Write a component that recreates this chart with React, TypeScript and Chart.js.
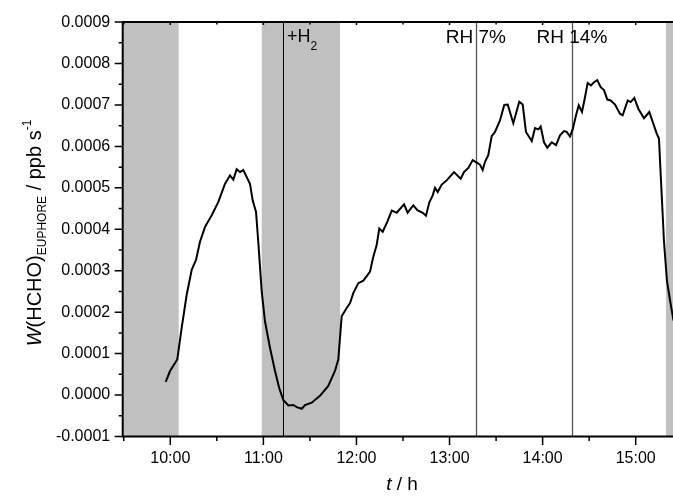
import { useEffect, useRef } from 'react';
import { Chart, registerables } from 'chart.js';

Chart.register(...registerables);

// time of day in hours
const timeH = [
  9.951, 9.997, 10.075, 10.122, 10.176, 10.23, 10.276, 10.319, 10.373, 10.445,
  10.516, 10.588, 10.641, 10.677, 10.713, 10.749, 10.784, 10.821, 10.856, 10.885,
  10.921, 10.945, 10.982, 11.017, 11.071, 11.125, 11.171, 11.214, 11.268, 11.321,
  11.358, 11.412, 11.447, 11.519, 11.608, 11.697, 11.769, 11.805, 11.841, 11.895,
  11.931, 11.966, 12.02, 12.074, 12.146, 12.181, 12.217, 12.245, 12.282, 12.331,
  12.379, 12.432, 12.511, 12.55, 12.611, 12.654, 12.712, 12.747, 12.783, 12.819,
  12.844, 12.873, 12.916, 12.969, 13.048, 13.12, 13.155, 13.202, 13.249, 13.292,
  13.327, 13.356, 13.381, 13.416, 13.453, 13.488, 13.542, 13.588, 13.625, 13.685,
  13.749, 13.786, 13.821, 13.883, 13.918, 13.954, 13.979, 14.015, 14.05, 14.098,
  14.144, 14.187, 14.23, 14.259, 14.294, 14.323, 14.359, 14.388, 14.423, 14.452,
  14.484, 14.52, 14.552, 14.587, 14.624, 14.659, 14.695, 14.731, 14.778, 14.831,
  14.86, 14.914, 14.946, 14.985, 15.028, 15.089, 15.146, 15.189, 15.226, 15.25,
  15.269, 15.29, 15.304, 15.336, 15.368, 15.406,
];

// W(HCHO)_EUPHORE in ppb s^-1
const wHCHO = [
  0.000032, 0.000058, 0.000086, 0.000162, 0.000242, 0.000302, 0.000326, 0.00037, 0.000406, 0.000434,
  0.000466, 0.00051, 0.00053, 0.00052, 0.000545, 0.000538, 0.000543, 0.000526, 0.00051, 0.00047,
  0.000442, 0.00037, 0.00025, 0.000178, 0.000114, 0.000058, 0.000016, -0.000012, -0.000025, -0.000024,
  -0.000029, -0.000033, -0.000024, -0.0000185, -0.000002, 0.000022, 0.000058, 0.000086, 0.00019, 0.00021,
  0.000222, 0.000246, 0.00027, 0.000276, 0.000298, 0.000334, 0.000362, 0.000402, 0.000394, 0.000418,
  0.000445, 0.00044, 0.00046, 0.00044, 0.000458, 0.000446, 0.00044, 0.000433, 0.000465, 0.000482,
  0.0005, 0.00049, 0.000508, 0.000518, 0.000538, 0.000522, 0.000538, 0.000548, 0.000567, 0.000561,
  0.000556, 0.000543, 0.000563, 0.000579, 0.000625, 0.000635, 0.000663, 0.0007, 0.000701, 0.000656,
  0.000708, 0.000701, 0.000635, 0.000613, 0.000644, 0.000641, 0.000648, 0.00061, 0.000597, 0.00061,
  0.000603, 0.000627, 0.000637, 0.000635, 0.000624, 0.000641, 0.000675, 0.000699, 0.000683, 0.000715,
  0.000753, 0.000747, 0.000755, 0.00076, 0.000743, 0.000736, 0.000713, 0.000711, 0.000701, 0.000679,
  0.000675, 0.000711, 0.000707, 0.000717, 0.000691, 0.000668, 0.000683, 0.000655, 0.000631, 0.000619,
  0.00053, 0.000434, 0.00037, 0.000275, 0.00023, 0.00018,
];

const xMin = 9.4886;
const xMax = 15.4007;
const xTicks = [10, 11, 12, 13, 14, 15];
const xTickLabels = ['10:00', '11:00', '12:00', '13:00', '14:00', '15:00'];
const xMinorTicks = [9.5, 10.5, 11.5, 12.5, 13.5, 14.5];

const yMin = -0.0001;
const yMax = 0.0009;
const yTicks = [-0.0001, 0, 0.0001, 0.0002, 0.0003, 0.0004, 0.0005, 0.0006, 0.0007, 0.0008, 0.0009];
const yTickLabels = ['-0.0001', '0.0000', '0.0001', '0.0002', '0.0003', '0.0004', '0.0005', '0.0006', '0.0007', '0.0008', '0.0009'];
const yMinorTicks = [-0.00005, 0.00005, 0.00015, 0.00025, 0.00035, 0.00045, 0.00055, 0.00065, 0.00075, 0.00085];

// dark (shaded) periods [start, end] in hours
const shadeStart = [9.4886, 10.982, 15.325];
const shadeEnd = [10.09, 11.823, 15.4007];

// events
const eventTimes = [11.215, 13.283, 14.315];
const eventLabels = ['+H', 'RH 7%', 'RH 14%'];
const eventColors = ['#000000', '#555555', '#555555'];

const FONT = "'Liberation Sans', Arial, Helvetica, sans-serif";

const decorPlugin = {
  id: 'decor',
  beforeDatasetsDraw(chart: any) {
    const { ctx, chartArea } = chart;
    const xs = chart.scales.x;
    ctx.save();
    ctx.fillStyle = '#c0c0c0';
    for (let i = 0; i < shadeStart.length; i++) {
      const a = xs.getPixelForValue(shadeStart[i]);
      const b = xs.getPixelForValue(shadeEnd[i]);
      ctx.fillRect(a, chartArea.top, b - a, chartArea.bottom - chartArea.top);
    }
    for (let i = 0; i < eventTimes.length; i++) {
      const px = Math.round(xs.getPixelForValue(eventTimes[i])) + 0.5;
      ctx.strokeStyle = eventColors[i];
      ctx.lineWidth = i === 0 ? 1 : 1.3;
      ctx.beginPath();
      ctx.moveTo(px, chartArea.top);
      ctx.lineTo(px, chartArea.bottom);
      ctx.stroke();
    }
    // labels
    ctx.fillStyle = '#000';
    ctx.textBaseline = 'alphabetic';
    const h2x = xs.getPixelForValue(eventTimes[0]) + 3.5;
    ctx.font = `18px ${FONT}`;
    ctx.textAlign = 'left';
    ctx.fillText(eventLabels[0], h2x, 42);
    const w = ctx.measureText(eventLabels[0]).width;
    ctx.font = `12px ${FONT}`;
    ctx.fillText('2', h2x + w, 50);
    ctx.font = `19px ${FONT}`;
    ctx.textAlign = 'center';
    for (let i = 1; i < eventTimes.length; i++) {
      ctx.fillText(eventLabels[i], xs.getPixelForValue(eventTimes[i]), 42.5);
    }
    ctx.restore();
  },
  afterDraw(chart: any) {
    const { ctx, chartArea } = chart;
    const xs = chart.scales.x;
    const ys = chart.scales.y;
    const L = chartArea.left;
    const R = chartArea.right;
    const T = chartArea.top;
    const B = chartArea.bottom;
    ctx.save();
    ctx.strokeStyle = '#000';
    ctx.lineWidth = 2;
    ctx.beginPath();
    ctx.moveTo(L, T);
    ctx.lineTo(R, T);
    ctx.moveTo(L, T - 1);
    ctx.lineTo(L, B + 1);
    ctx.moveTo(L - 1, B);
    ctx.lineTo(R, B);
    ctx.stroke();
    ctx.lineWidth = 1.5;
    ctx.beginPath();
    yTicks.forEach((v) => {
      const py = ys.getPixelForValue(v);
      ctx.moveTo(L - 8, py);
      ctx.lineTo(L, py);
    });
    yMinorTicks.forEach((v) => {
      const py = ys.getPixelForValue(v);
      ctx.moveTo(L - 4, py);
      ctx.lineTo(L, py);
    });
    xTicks.forEach((v) => {
      const px = xs.getPixelForValue(v);
      ctx.moveTo(px, B);
      ctx.lineTo(px, B + 8.5);
      ctx.moveTo(px, T);
      ctx.lineTo(px, T + 3);
    });
    xMinorTicks.forEach((v) => {
      const px = xs.getPixelForValue(v);
      ctx.moveTo(px, B);
      ctx.lineTo(px, B + 4.5);
      ctx.moveTo(px, T);
      ctx.lineTo(px, T + 2.5);
    });
    ctx.stroke();

    // axis titles
    ctx.fillStyle = '#000';
    ctx.textBaseline = 'alphabetic';
    ctx.textAlign = 'left';
    // x title
    ctx.font = `italic 19px ${FONT}`;
    const tW = ctx.measureText('t').width;
    ctx.font = `19px ${FONT}`;
    const restW = ctx.measureText(' / h').width;
    const xc = 402;
    let sx = xc - (tW + restW) / 2;
    ctx.font = `italic 19px ${FONT}`;
    ctx.fillText('t', sx, 490);
    ctx.font = `19px ${FONT}`;
    ctx.fillText(' / h', sx + tW, 490);

    // y title
    const segs = [
      { t: 'W', f: `italic 20px ${FONT}`, dy: 0 },
      { t: '(HCHO)', f: `20px ${FONT}`, dy: 0 },
      { t: 'EUPHORE', f: `12px ${FONT}`, dy: 5 },
      { t: ' / ppb s', f: `20px ${FONT}`, dy: 0 },
      { t: '-1', f: `12px ${FONT}`, dy: -10 },
    ];
    let total = 0;
    const widths = segs.map((s) => {
      ctx.font = s.f;
      const w = ctx.measureText(s.t).width;
      total += w;
      return w;
    });
    ctx.translate(41, 233);
    ctx.rotate(-Math.PI / 2);
    let cx = -total / 2;
    segs.forEach((s, i) => {
      ctx.font = s.f;
      ctx.fillText(s.t, cx, s.dy);
      cx += widths[i];
    });
    ctx.restore();
  },
};

export default function App() {
  const ref = useRef<HTMLCanvasElement>(null);
  useEffect(() => {
    if (!ref.current) return;
    const points = timeH.map((t, i) => ({ x: t, y: wHCHO[i] }));
    const chart = new Chart(ref.current, {
      type: 'line',
      data: {
        datasets: [
          {
            data: points,
            borderColor: '#000',
            borderWidth: 2,
            pointRadius: 0,
            tension: 0,
            fill: false,
          },
        ],
      },
      options: {
        animation: false,
        responsive: false,
        layout: { padding: { top: 20.5, left: 0, right: 0, bottom: 0 } },
        plugins: { legend: { display: false }, tooltip: { enabled: false } },
        scales: {
          x: {
            type: 'linear',
            min: xMin,
            max: xMax,
            grid: { display: false, drawTicks: false },
            border: { display: false },
            afterBuildTicks: (s: any) => {
              s.ticks = xTicks.map((v) => ({ value: v }));
            },
            afterFit: (s: any) => {
              s.height = 59.5;
            },
            ticks: {
              autoSkip: false,
              maxRotation: 0,
              padding: 12,
              color: '#000',
              font: { family: FONT, size: 16 },
              callback: (_v: any, i: number) => xTickLabels[i],
            },
          },
          y: {
            type: 'linear',
            min: yMin,
            max: yMax,
            grid: { display: false, drawTicks: false },
            border: { display: false },
            afterBuildTicks: (s: any) => {
              s.ticks = yTicks.map((v) => ({ value: v }));
            },
            afterFit: (s: any) => {
              s.width = 122.7;
            },
            ticks: {
              autoSkip: false,
              padding: 12.5,
              color: '#000',
              font: { family: FONT, size: 16 },
              callback: (_v: any, i: number) => yTickLabels[i],
            },
          },
        },
      },
      plugins: [decorPlugin],
    });
    return () => chart.destroy();
  }, []);
  return (
    <div style={{ position: 'fixed', left: 0, top: 0, width: 673, height: 496, background: '#fff' }}>
      <canvas ref={ref} width={673} height={496} style={{ width: 673, height: 496, display: 'block' }} />
    </div>
  );
}
